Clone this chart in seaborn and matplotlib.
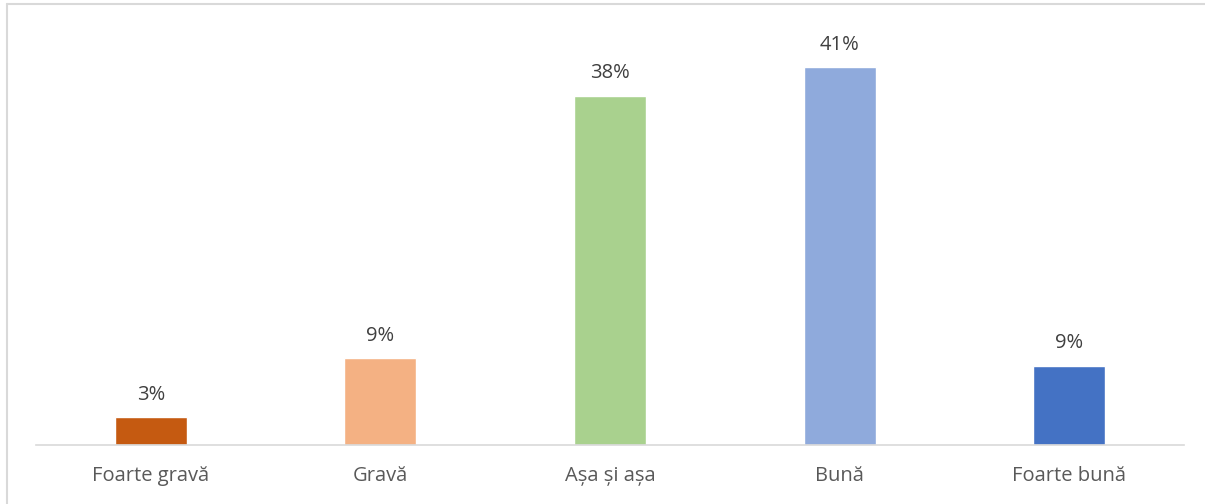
import matplotlib
matplotlib.use("Agg")
import matplotlib.pyplot as plt
from matplotlib.lines import Line2D
import seaborn as sns
import pandas as pd

# Values (labels are the rounded figures shown)
categories = ["Foarte gravă", "Gravă", "Așa și așa", "Bună", "Foarte bună"]
values = [3.0, 9.4, 37.9, 41.0, 8.6]
value_labels = ["3%", "9%", "38%", "41%", "9%"]
colors = ["#C55A11", "#F4B183", "#A9D18E", "#8FAADC", "#4472C4"]

df = pd.DataFrame({"category": categories, "value": values})

sns.set_theme(style="white")
plt.rcParams["font.family"] = ["Open Sans", "DejaVu Sans"]

fig = plt.figure(figsize=(12.05, 5.04), dpi=100)
ax = fig.add_axes([0.0299, 0.117, 0.9527, 0.8194])

sns.barplot(data=df, x="category", y="value", hue="category",
            palette=colors, width=0.314, saturation=1, legend=False, ax=ax)

ax.set_xlim(-0.5, 4.5)
ax.set_ylim(0, 44.8)

# data labels
for i, (v, lab) in enumerate(zip(values, value_labels)):
    ax.annotate(lab, (i, v), xytext=(0, 9), textcoords="offset points",
                ha="center", va="bottom", fontsize=14.5, color="#404040")

ax.set_xlabel("")
ax.set_ylabel("")
ax.set_yticks([])
ax.tick_params(axis="x", length=0, pad=15, labelsize=14.5, labelcolor="#595959")

for side in ["top", "right", "left"]:
    ax.spines[side].set_visible(False)
ax.spines["bottom"].set_color("#D9D9D9")
ax.spines["bottom"].set_linewidth(1.2)

# chart-area border: only the left and top edges fall inside the image
x0 = 7.5 / 1205
y0 = 1 - 3.5 / 504
fig.add_artist(Line2D([x0, x0], [0, y0], transform=fig.transFigure,
                      color="#D9D9D9", linewidth=1.5))
fig.add_artist(Line2D([x0, 1], [y0, y0], transform=fig.transFigure,
                      color="#D9D9D9", linewidth=1.5))

fig.savefig("out.png", dpi=100)
